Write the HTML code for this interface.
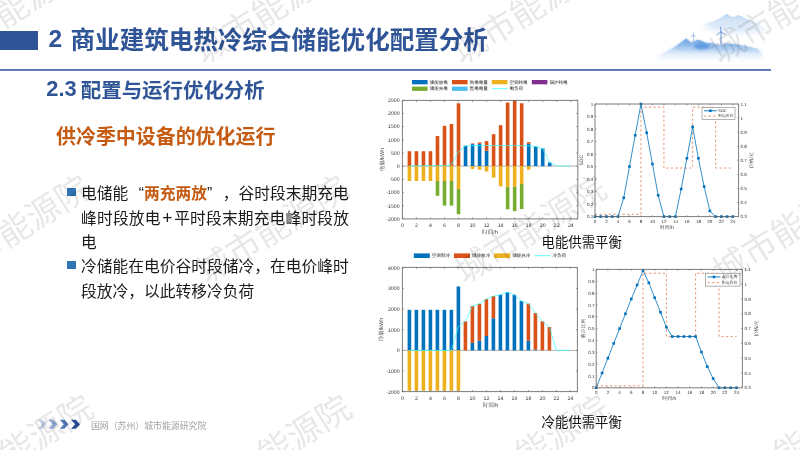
<!DOCTYPE html>
<html lang="zh-CN">
<head>
<meta charset="utf-8">
<title>2 商业建筑电热冷综合储能优化配置分析</title>
<style>
html,body{margin:0;padding:0;background:#fff;}
body{width:800px;height:450px;position:relative;overflow:hidden;font-family:"Liberation Sans", "Noto Sans CJK SC", sans-serif;}
.abs{position:absolute;white-space:nowrap;}
svg{position:absolute;left:0;top:0;}
.bar{left:0;top:30.5px;width:38px;height:19px;background:#2f5597;}
.title{left:48.5px;top:22.5px;font-size:24.55px;line-height:35px;font-weight:700;color:#2f5597;word-spacing:1.6px;}
.hline{left:0;top:68.5px;width:771px;height:2px;background:linear-gradient(#5472b4,#5f7cbb 70%,#8ea3d0);}
.sub{left:46.3px;top:75.5px;font-size:20.45px;line-height:30px;font-weight:700;color:#2f5597;word-spacing:-1.5px;}
.n1{position:relative;top:-1.4px;}
.n2{position:relative;top:-1.1px;font-size:21.8px;letter-spacing:0;line-height:1;}
.h3{left:56px;top:121.5px;font-size:19.95px;line-height:30px;font-weight:700;color:#c55a11;}
.ln{left:81.1px;font-size:15.76px;line-height:24px;color:#1a1a1a;width:267px;}
.j{text-align:justify;text-align-last:justify;}
.q{display:inline-block;width:15.7px;}
.plus{display:inline-block;width:13.6px;text-align:center;font-size:17.5px;line-height:1;}
.hl{color:#c55a11;font-weight:700;}
.sq{left:67px;width:8.7px;height:8.7px;background:#2e75b6;}
.cap{font-size:13.4px;line-height:18px;color:#111;left:541.5px;}
.foot{left:91px;top:418.6px;font-size:8.9px;line-height:14px;color:#a3a3a3;}
</style>
</head>
<body>
<svg class="mt" width="800" height="450" viewBox="0 0 800 450">
<defs>
<filter id="b0" x="-20%" y="-40%" width="140%" height="180%"><feGaussianBlur stdDeviation="0.55"/></filter>
<filter id="b1" x="-20%" y="-40%" width="140%" height="180%"><feGaussianBlur stdDeviation="1.3"/></filter>
<filter id="b2" x="-20%" y="-40%" width="140%" height="180%"><feGaussianBlur stdDeviation="2.4"/></filter>
<linearGradient id="mg" gradientUnits="userSpaceOnUse" x1="0" y1="38" x2="0" y2="62"><stop offset="0" stop-color="#8fbaea" stop-opacity="0.9"/><stop offset="0.5" stop-color="#b5d2f2" stop-opacity="0.75"/><stop offset="1" stop-color="#e3eefa" stop-opacity="0"/></linearGradient>
<linearGradient id="rg" gradientUnits="userSpaceOnUse" x1="0" y1="38" x2="0" y2="54"><stop offset="0" stop-color="#5e9ce0" stop-opacity="0.85"/><stop offset="0.45" stop-color="#78acE6" stop-opacity="0.6"/><stop offset="1" stop-color="#a9cbf0" stop-opacity="0"/></linearGradient>
<linearGradient id="cg" gradientUnits="userSpaceOnUse" x1="0" y1="14" x2="0" y2="32"><stop offset="0" stop-color="#8dbaec" stop-opacity="0.9"/><stop offset="0.5" stop-color="#b9d5f3" stop-opacity="0.6"/><stop offset="1" stop-color="#e3eefa" stop-opacity="0"/></linearGradient>
</defs>
<path d="M654 60 L659 56 L668 50 L676 46 L683 41 L686 38.5 L689 41 L692 42.5 L697 40 L701 40.5 L706 43 L712 43 L716 44.5 L721 45 L726 43.5 L734 44 L742 45.5 L750 47 L758 49 L762 53 L763 61 L740 63 L700 61 L670 63 Z" fill="url(#mg)" filter="url(#b1)"/>
<path d="M672 49 L676 46 L683 41 L686 38.5 L689 41 L692 42.5 L697 40 L701 40.5 L706 43 L712 43 L716 44.5 L721 45 L726 43.5 L734 44 L742 45.5 L750 47 L758 49 L760 53 L740 54 L715 55 L690 53 Z" fill="url(#rg)" filter="url(#b0)"/>
<ellipse cx="702" cy="46.3" rx="8" ry="3.2" fill="#4a8fda" opacity="0.7" filter="url(#b1)"/>
<path d="M704 25 L708 23 L714 21 L720 18 L724 15.5 L727 14 L730 16 L734 17 L738 15 L742 16.5 L747 19 L752 21 L758 24 L765 28 L771 32 L745 31 L720 29 Z" fill="url(#cg)" filter="url(#b0)" opacity="0.75"/>
<path d="M700 27 L720 22 L745 23 L768 31 L740 33 L715 31 Z" fill="#c9def5" opacity="0.6" filter="url(#b2)"/>
<path d="M693.4 42.5V34.5M693.4 35.2l-2.6 1.2M693.4 35.2l2.4 1.3M693.4 35.2v-2.6" stroke="#86abda" stroke-width="0.7" fill="none"/>
<path d="M721 45V31.5M721 32l-4.6 3.2M721 32l4.4 2.6M721 32l-0.4-5.2" stroke="#628fcd" stroke-width="0.9" fill="none"/>
</svg>
<div class="abs bar"></div>
<div class="abs title"><span class="n1">2</span> 商业建筑电热冷综合储能优化配置分析</div>
<div class="abs hline"></div>
<div class="abs sub"><span class="n2">2.3</span> 配置与运行优化分析</div>
<div class="abs h3">供冷季中设备的优化运行</div>

<div class="abs sq" style="top:187.6px"></div>
<div class="abs ln" style="top:182.3px">电储能<span class="q" style="text-align:right">“</span><span class="hl">两充两放</span><span class="q" style="text-align:left">”</span>，谷时段末期充电</div>
<div class="abs ln" style="top:206.8px;letter-spacing:0.15px">峰时段放电<span class="plus">+</span>平时段末期充电峰时段放</div>
<div class="abs ln" style="top:231.2px">电</div>
<div class="abs sq" style="top:260.5px"></div>
<div class="abs ln" style="top:255.2px">冷储能在电价谷时段储冷，在电价峰时</div>
<div class="abs ln" style="top:279.5px">段放冷，以此转移冷负荷</div>

<svg class="charts" width="800" height="450" viewBox="0 0 800 450" font-family='"Liberation Sans", "Noto Serif CJK SC", serif' text-rendering="geometricPrecision">
<path d="M402.4 166.1H577.8" stroke="#666" stroke-width="0.5"/>
<g shape-rendering="auto">
<rect x="407.62" y="151.22" width="3.6" height="14.88" fill="#d95319"/>
<rect x="407.62" y="166.1" width="3.6" height="14.88" fill="#edb120"/>
<rect x="414.63" y="151.22" width="3.6" height="14.88" fill="#d95319"/>
<rect x="414.63" y="166.1" width="3.6" height="14.88" fill="#edb120"/>
<rect x="421.65" y="151.22" width="3.6" height="14.88" fill="#d95319"/>
<rect x="421.65" y="166.1" width="3.6" height="14.88" fill="#edb120"/>
<rect x="428.66" y="151.22" width="3.6" height="14.88" fill="#d95319"/>
<rect x="428.66" y="166.1" width="3.6" height="14.88" fill="#edb120"/>
<rect x="435.68" y="136.07" width="3.6" height="30.03" fill="#d95319"/>
<rect x="435.68" y="166.1" width="3.6" height="14.88" fill="#edb120"/>
<rect x="435.68" y="180.98" width="3.6" height="14.83" fill="#77ac30"/>
<rect x="442.7" y="125.8" width="3.6" height="40.3" fill="#d95319"/>
<rect x="442.7" y="166.1" width="3.6" height="14.88" fill="#edb120"/>
<rect x="442.7" y="180.98" width="3.6" height="24.63" fill="#77ac30"/>
<rect x="449.71" y="123.96" width="3.6" height="42.14" fill="#d95319"/>
<rect x="449.71" y="166.1" width="3.6" height="14.88" fill="#edb120"/>
<rect x="449.71" y="180.98" width="3.6" height="24.63" fill="#77ac30"/>
<rect x="456.73" y="103.28" width="3.6" height="62.82" fill="#d95319"/>
<rect x="456.73" y="166.1" width="3.6" height="22.97" fill="#edb120"/>
<rect x="456.73" y="189.07" width="3.6" height="25.18" fill="#77ac30"/>
<rect x="463.74" y="145.82" width="3.6" height="20.28" fill="#0072bd"/>
<rect x="463.74" y="145.69" width="3.6" height="0.13" fill="#d95319"/>
<rect x="470.76" y="144.11" width="3.6" height="21.99" fill="#0072bd"/>
<rect x="470.76" y="143.45" width="3.6" height="0.66" fill="#d95319"/>
<rect x="470.76" y="166.1" width="3.6" height="2.9" fill="#edb120"/>
<rect x="477.78" y="143.84" width="3.6" height="22.26" fill="#0072bd"/>
<rect x="477.78" y="142.39" width="3.6" height="1.45" fill="#d95319"/>
<rect x="477.78" y="166.1" width="3.6" height="3.69" fill="#edb120"/>
<rect x="484.79" y="150.82" width="3.6" height="15.28" fill="#0072bd"/>
<rect x="484.79" y="141.08" width="3.6" height="9.75" fill="#d95319"/>
<rect x="484.79" y="166.1" width="3.6" height="5.4" fill="#edb120"/>
<rect x="491.81" y="134.18" width="3.6" height="31.92" fill="#d95319"/>
<rect x="491.81" y="166.1" width="3.6" height="11.59" fill="#edb120"/>
<rect x="498.82" y="125.19" width="3.6" height="40.91" fill="#d95319"/>
<rect x="498.82" y="166.1" width="3.6" height="20.28" fill="#edb120"/>
<rect x="505.84" y="102.54" width="3.6" height="63.56" fill="#d95319"/>
<rect x="505.84" y="166.1" width="3.6" height="21.07" fill="#edb120"/>
<rect x="505.84" y="187.17" width="3.6" height="22.13" fill="#77ac30"/>
<rect x="512.86" y="100.25" width="3.6" height="65.85" fill="#d95319"/>
<rect x="512.86" y="166.1" width="3.6" height="20.68" fill="#edb120"/>
<rect x="512.86" y="186.78" width="3.6" height="24.36" fill="#77ac30"/>
<rect x="519.87" y="103.25" width="3.6" height="62.85" fill="#d95319"/>
<rect x="519.87" y="166.1" width="3.6" height="17.91" fill="#edb120"/>
<rect x="519.87" y="184.01" width="3.6" height="25.02" fill="#77ac30"/>
<rect x="526.89" y="143.84" width="3.6" height="22.26" fill="#0072bd"/>
<rect x="526.89" y="142.16" width="3.6" height="1.69" fill="#d95319"/>
<rect x="526.89" y="166.1" width="3.6" height="3.58" fill="#edb120"/>
<rect x="533.9" y="146.48" width="3.6" height="19.62" fill="#0072bd"/>
<rect x="540.92" y="148.45" width="3.6" height="17.65" fill="#0072bd"/>
<rect x="547.94" y="162.52" width="3.6" height="3.58" fill="#0072bd"/>
</g>
<path d="M409.42 165.78 L416.43 165.78 L423.45 165.78 L430.46 165.78 L437.48 165.78 L444.5 165.7 L451.51 164.52 L458.53 151.35 L465.54 145.82 L472.56 145.69 L479.58 145.55 L486.59 145.55 L493.61 145.55 L500.62 145.55 L507.64 145.55 L514.66 145.55 L521.67 145.69 L528.69 145.77 L535.7 146.61 L542.72 148.72 L549.74 162.52 L556.75 165.89 L563.77 166.1 L570.78 166.1" fill="none" stroke="#3ff" stroke-width="0.7" stroke-linejoin="round"/>
<path d="M402.4 100.4H577.8V218.9H402.4Z" fill="none" stroke="#666" stroke-width="0.85"/>
<path d="M402.4 218.9v-1.6M402.4 100.4v1.6M416.43 218.9v-1.6M416.43 100.4v1.6M430.46 218.9v-1.6M430.46 100.4v1.6M444.5 218.9v-1.6M444.5 100.4v1.6M458.53 218.9v-1.6M458.53 100.4v1.6M472.56 218.9v-1.6M472.56 100.4v1.6M486.59 218.9v-1.6M486.59 100.4v1.6M500.62 218.9v-1.6M500.62 100.4v1.6M514.66 218.9v-1.6M514.66 100.4v1.6M528.69 218.9v-1.6M528.69 100.4v1.6M542.72 218.9v-1.6M542.72 100.4v1.6M556.75 218.9v-1.6M556.75 100.4v1.6M570.78 218.9v-1.6M570.78 100.4v1.6M402.4 218.78h1.6M577.8 218.78h-1.6M402.4 205.61h1.6M577.8 205.61h-1.6M402.4 192.44h1.6M577.8 192.44h-1.6M402.4 179.27h1.6M577.8 179.27h-1.6M402.4 166.1h1.6M577.8 166.1h-1.6M402.4 152.93h1.6M577.8 152.93h-1.6M402.4 139.76h1.6M577.8 139.76h-1.6M402.4 126.59h1.6M577.8 126.59h-1.6M402.4 113.42h1.6M577.8 113.42h-1.6M402.4 100.25h1.6M577.8 100.25h-1.6" fill="none" stroke="#666" stroke-width="0.6"/>
<text x="402.4" y="226.6" font-size="5.2" text-anchor="middle" fill="#333">0</text>
<text x="416.43" y="226.6" font-size="5.2" text-anchor="middle" fill="#333">2</text>
<text x="430.46" y="226.6" font-size="5.2" text-anchor="middle" fill="#333">4</text>
<text x="444.5" y="226.6" font-size="5.2" text-anchor="middle" fill="#333">6</text>
<text x="458.53" y="226.6" font-size="5.2" text-anchor="middle" fill="#333">8</text>
<text x="472.56" y="226.6" font-size="5.2" text-anchor="middle" fill="#333">10</text>
<text x="486.59" y="226.6" font-size="5.2" text-anchor="middle" fill="#333">12</text>
<text x="500.62" y="226.6" font-size="5.2" text-anchor="middle" fill="#333">14</text>
<text x="514.66" y="226.6" font-size="5.2" text-anchor="middle" fill="#333">16</text>
<text x="528.69" y="226.6" font-size="5.2" text-anchor="middle" fill="#333">18</text>
<text x="542.72" y="226.6" font-size="5.2" text-anchor="middle" fill="#333">20</text>
<text x="556.75" y="226.6" font-size="5.2" text-anchor="middle" fill="#333">22</text>
<text x="570.78" y="226.6" font-size="5.2" text-anchor="middle" fill="#333">24</text>
<text x="399.6" y="220.68" font-size="5.2" text-anchor="end" fill="#333">-2000</text>
<text x="399.6" y="207.51" font-size="5.2" text-anchor="end" fill="#333">-1500</text>
<text x="399.6" y="194.34" font-size="5.2" text-anchor="end" fill="#333">-1000</text>
<text x="399.6" y="181.17" font-size="5.2" text-anchor="end" fill="#333">-500</text>
<text x="399.6" y="168" font-size="5.2" text-anchor="end" fill="#333">0</text>
<text x="399.6" y="154.83" font-size="5.2" text-anchor="end" fill="#333">500</text>
<text x="399.6" y="141.66" font-size="5.2" text-anchor="end" fill="#333">1000</text>
<text x="399.6" y="128.49" font-size="5.2" text-anchor="end" fill="#333">1500</text>
<text x="399.6" y="115.32" font-size="5.2" text-anchor="end" fill="#333">2000</text>
<text x="399.6" y="102.15" font-size="5.2" text-anchor="end" fill="#333">2500</text>
<text x="490" y="234.2" font-size="5.6" text-anchor="middle" fill="#333">时间/h</text>
<text x="383.6" y="159.6" font-size="5.6" text-anchor="middle" fill="#333" transform="rotate(-90 383.6 159.6)">电量/kWh</text>
<rect x="412" y="80" width="15.6" height="4.3" fill="#0072bd"/>
<text x="429.6" y="83.8" font-size="4.55" text-anchor="start" fill="#2a2a2a" font-family='"Liberation Sans", "Noto Sans CJK SC", sans-serif' >储能放电</text>
<rect x="452" y="80" width="15.6" height="4.3" fill="#d95319"/>
<text x="469.6" y="83.8" font-size="4.55" text-anchor="start" fill="#2a2a2a" font-family='"Liberation Sans", "Noto Sans CJK SC", sans-serif' >购电电量</text>
<rect x="491.8" y="80" width="15.6" height="4.3" fill="#edb120"/>
<text x="509.4" y="83.8" font-size="4.55" text-anchor="start" fill="#2a2a2a" font-family='"Liberation Sans", "Noto Sans CJK SC", sans-serif' >空调耗电</text>
<rect x="531.8" y="80" width="15.6" height="4.3" fill="#7e2f8e"/>
<text x="549.4" y="83.8" font-size="4.55" text-anchor="start" fill="#2a2a2a" font-family='"Liberation Sans", "Noto Sans CJK SC", sans-serif' >锅炉耗电</text>
<rect x="412" y="86.6" width="15.6" height="4.3" fill="#77ac30"/>
<text x="429.6" y="90.4" font-size="4.55" text-anchor="start" fill="#2a2a2a" font-family='"Liberation Sans", "Noto Sans CJK SC", sans-serif' >储能充电</text>
<rect x="452" y="86.6" width="15.6" height="4.3" fill="#4dbeee"/>
<text x="469.6" y="90.4" font-size="4.55" text-anchor="start" fill="#2a2a2a" font-family='"Liberation Sans", "Noto Sans CJK SC", sans-serif' >售电电量</text>
<path d="M491.8 88.7h15.6" stroke="#3ff" stroke-width="0.8"/>
<text x="509.4" y="90.4" font-size="4.55" text-anchor="start" fill="#2a2a2a" font-family='"Liberation Sans", "Noto Sans CJK SC", sans-serif' >电负荷</text>
<path d="M595 214.35 L640.95 214.35 L640.95 107.24 L663.93 107.24 L663.93 168.04 L692.65 168.04 L692.65 107.24 L715.62 107.24 L715.62 168.04 L732.86 168.04" fill="none" stroke="#e2774a" stroke-width="0.8" stroke-dasharray="2.2 2.4"/>
<path d="M595 216.6 L600.74 216.6 L606.49 216.6 L612.23 216.6 L617.98 216.6 L623.72 197.83 L629.46 166.56 L635.21 135.28 L640.95 104 L646.7 132.78 L652.44 164.05 L658.18 195.33 L663.93 216.6 L669.67 216.6 L675.42 216.6 L681.16 189.08 L686.9 158.3 L692.65 126.77 L698.39 158.3 L704.14 186.57 L709.88 210.97 L715.62 216.6 L721.37 216.6 L727.11 216.6 L732.86 216.6" fill="none" stroke="#0072bd" stroke-width="0.8" stroke-linejoin="round"/>
<rect x="593.7" y="215.3" width="2.6" height="2.6" fill="#0072bd"/>
<rect x="599.44" y="215.3" width="2.6" height="2.6" fill="#0072bd"/>
<rect x="605.19" y="215.3" width="2.6" height="2.6" fill="#0072bd"/>
<rect x="610.93" y="215.3" width="2.6" height="2.6" fill="#0072bd"/>
<rect x="616.68" y="215.3" width="2.6" height="2.6" fill="#0072bd"/>
<rect x="622.42" y="196.53" width="2.6" height="2.6" fill="#0072bd"/>
<rect x="628.16" y="165.26" width="2.6" height="2.6" fill="#0072bd"/>
<rect x="633.91" y="133.98" width="2.6" height="2.6" fill="#0072bd"/>
<rect x="639.65" y="102.7" width="2.6" height="2.6" fill="#0072bd"/>
<rect x="645.4" y="131.48" width="2.6" height="2.6" fill="#0072bd"/>
<rect x="651.14" y="162.75" width="2.6" height="2.6" fill="#0072bd"/>
<rect x="656.88" y="194.03" width="2.6" height="2.6" fill="#0072bd"/>
<rect x="662.63" y="215.3" width="2.6" height="2.6" fill="#0072bd"/>
<rect x="668.37" y="215.3" width="2.6" height="2.6" fill="#0072bd"/>
<rect x="674.12" y="215.3" width="2.6" height="2.6" fill="#0072bd"/>
<rect x="679.86" y="187.78" width="2.6" height="2.6" fill="#0072bd"/>
<rect x="685.6" y="157" width="2.6" height="2.6" fill="#0072bd"/>
<rect x="691.35" y="125.47" width="2.6" height="2.6" fill="#0072bd"/>
<rect x="697.09" y="157" width="2.6" height="2.6" fill="#0072bd"/>
<rect x="702.84" y="185.27" width="2.6" height="2.6" fill="#0072bd"/>
<rect x="708.58" y="209.67" width="2.6" height="2.6" fill="#0072bd"/>
<rect x="714.32" y="215.3" width="2.6" height="2.6" fill="#0072bd"/>
<rect x="720.07" y="215.3" width="2.6" height="2.6" fill="#0072bd"/>
<rect x="725.81" y="215.3" width="2.6" height="2.6" fill="#0072bd"/>
<rect x="731.56" y="215.3" width="2.6" height="2.6" fill="#0072bd"/>
<path d="M595 104H738.6V216.6H595Z" fill="none" stroke="#666" stroke-width="0.85"/>
<path d="M595 216.6v-1.4M595 104v1.4M606.49 216.6v-1.4M606.49 104v1.4M617.98 216.6v-1.4M617.98 104v1.4M629.46 216.6v-1.4M629.46 104v1.4M640.95 216.6v-1.4M640.95 104v1.4M652.44 216.6v-1.4M652.44 104v1.4M663.93 216.6v-1.4M663.93 104v1.4M675.42 216.6v-1.4M675.42 104v1.4M686.9 216.6v-1.4M686.9 104v1.4M698.39 216.6v-1.4M698.39 104v1.4M709.88 216.6v-1.4M709.88 104v1.4M721.37 216.6v-1.4M721.37 104v1.4M732.86 216.6v-1.4M732.86 104v1.4M595 216.6h1.4M595 204.09h1.4M595 191.58h1.4M595 179.07h1.4M595 166.56h1.4M595 154.04h1.4M595 141.53h1.4M595 129.02h1.4M595 116.51h1.4M595 104h1.4M738.6 216.6h-1.4M738.6 202.52h-1.4M738.6 188.45h-1.4M738.6 174.38h-1.4M738.6 160.3h-1.4M738.6 146.22h-1.4M738.6 132.15h-1.4M738.6 118.08h-1.4M738.6 104h-1.4" fill="none" stroke="#666" stroke-width="0.6"/>
<text x="595" y="223.4" font-size="4.5" text-anchor="middle" fill="#333">0</text>
<text x="606.49" y="223.4" font-size="4.5" text-anchor="middle" fill="#333">2</text>
<text x="617.98" y="223.4" font-size="4.5" text-anchor="middle" fill="#333">4</text>
<text x="629.46" y="223.4" font-size="4.5" text-anchor="middle" fill="#333">6</text>
<text x="640.95" y="223.4" font-size="4.5" text-anchor="middle" fill="#333">8</text>
<text x="652.44" y="223.4" font-size="4.5" text-anchor="middle" fill="#333">10</text>
<text x="663.93" y="223.4" font-size="4.5" text-anchor="middle" fill="#333">12</text>
<text x="675.42" y="223.4" font-size="4.5" text-anchor="middle" fill="#333">14</text>
<text x="686.9" y="223.4" font-size="4.5" text-anchor="middle" fill="#333">16</text>
<text x="698.39" y="223.4" font-size="4.5" text-anchor="middle" fill="#333">18</text>
<text x="709.88" y="223.4" font-size="4.5" text-anchor="middle" fill="#333">20</text>
<text x="721.37" y="223.4" font-size="4.5" text-anchor="middle" fill="#333">22</text>
<text x="732.86" y="223.4" font-size="4.5" text-anchor="middle" fill="#333">24</text>
<text x="593.2" y="218.2" font-size="4.5" text-anchor="end" fill="#333">0.1</text>
<text x="593.2" y="205.69" font-size="4.5" text-anchor="end" fill="#333">0.2</text>
<text x="593.2" y="193.18" font-size="4.5" text-anchor="end" fill="#333">0.3</text>
<text x="593.2" y="180.67" font-size="4.5" text-anchor="end" fill="#333">0.4</text>
<text x="593.2" y="168.16" font-size="4.5" text-anchor="end" fill="#333">0.5</text>
<text x="593.2" y="155.64" font-size="4.5" text-anchor="end" fill="#333">0.6</text>
<text x="593.2" y="143.13" font-size="4.5" text-anchor="end" fill="#333">0.7</text>
<text x="593.2" y="130.62" font-size="4.5" text-anchor="end" fill="#333">0.8</text>
<text x="593.2" y="118.11" font-size="4.5" text-anchor="end" fill="#333">0.9</text>
<text x="593.2" y="105.6" font-size="4.5" text-anchor="end" fill="#333">1</text>
<text x="740.6" y="218.2" font-size="4.5" text-anchor="start" fill="#333">0.3</text>
<text x="740.6" y="204.12" font-size="4.5" text-anchor="start" fill="#333">0.4</text>
<text x="740.6" y="190.05" font-size="4.5" text-anchor="start" fill="#333">0.5</text>
<text x="740.6" y="175.97" font-size="4.5" text-anchor="start" fill="#333">0.6</text>
<text x="740.6" y="161.9" font-size="4.5" text-anchor="start" fill="#333">0.7</text>
<text x="740.6" y="147.82" font-size="4.5" text-anchor="start" fill="#333">0.8</text>
<text x="740.6" y="133.75" font-size="4.5" text-anchor="start" fill="#333">0.9</text>
<text x="740.6" y="119.68" font-size="4.5" text-anchor="start" fill="#333">1</text>
<text x="740.6" y="105.6" font-size="4.5" text-anchor="start" fill="#333">1.1</text>
<text x="666.8" y="228.6" font-size="4.9" text-anchor="middle" fill="#333">时间/h</text>
<text x="583.2" y="160.3" font-size="4.9" text-anchor="middle" fill="#333" transform="rotate(-90 583.2 160.3)">SOC</text>
<text x="753" y="160.3" font-size="4.9" text-anchor="middle" fill="#333" transform="rotate(-90 753 160.3)">价格/元</text>
<rect x="702" y="107.3" width="33" height="12" fill="#fff" stroke="#666" stroke-width="0.5"/>
<path d="M704 110.78h12.8" stroke="#0072bd" stroke-width="0.9"/>
<rect x="709.1" y="109.48" width="2.6" height="2.6" fill="#0072bd"/>
<path d="M704 116.06h12.8" stroke="#e2774a" stroke-width="0.8" stroke-dasharray="2.2 2.4"/>
<text x="718.2" y="112.18" font-size="3.9" text-anchor="start" fill="#222">SOC</text>
<text x="718.2" y="117.46" font-size="3.9" text-anchor="start" fill="#222">购电价格</text>
<path d="M402.4 350.4H577.4" stroke="#666" stroke-width="0.5"/>
<rect x="407.6" y="309.82" width="3.6" height="40.58" fill="#0072bd"/>
<rect x="407.6" y="350.4" width="3.6" height="40.37" fill="#edb120"/>
<rect x="414.6" y="309.82" width="3.6" height="40.58" fill="#0072bd"/>
<rect x="414.6" y="350.4" width="3.6" height="40.37" fill="#edb120"/>
<rect x="421.6" y="309.82" width="3.6" height="40.58" fill="#0072bd"/>
<rect x="421.6" y="350.4" width="3.6" height="40.37" fill="#edb120"/>
<rect x="428.6" y="309.82" width="3.6" height="40.58" fill="#0072bd"/>
<rect x="428.6" y="350.4" width="3.6" height="40.37" fill="#edb120"/>
<rect x="435.6" y="309.82" width="3.6" height="40.58" fill="#0072bd"/>
<rect x="435.6" y="350.4" width="3.6" height="40.37" fill="#edb120"/>
<rect x="442.6" y="309.82" width="3.6" height="40.58" fill="#0072bd"/>
<rect x="442.6" y="350.4" width="3.6" height="40.37" fill="#edb120"/>
<rect x="449.6" y="309.82" width="3.6" height="40.58" fill="#0072bd"/>
<rect x="449.6" y="350.4" width="3.6" height="40.37" fill="#edb120"/>
<rect x="456.6" y="286.49" width="3.6" height="63.91" fill="#0072bd"/>
<rect x="456.6" y="350.4" width="3.6" height="40.37" fill="#edb120"/>
<rect x="463.6" y="321.32" width="3.6" height="29.08" fill="#d95319"/>
<rect x="470.6" y="342.88" width="3.6" height="7.52" fill="#0072bd"/>
<rect x="470.6" y="306" width="3.6" height="36.88" fill="#d95319"/>
<rect x="477.6" y="340.67" width="3.6" height="9.73" fill="#0072bd"/>
<rect x="477.6" y="303.79" width="3.6" height="36.88" fill="#d95319"/>
<rect x="484.6" y="335.97" width="3.6" height="14.43" fill="#0072bd"/>
<rect x="484.6" y="299.08" width="3.6" height="36.88" fill="#d95319"/>
<rect x="491.6" y="318.23" width="3.6" height="32.17" fill="#0072bd"/>
<rect x="491.6" y="296.07" width="3.6" height="22.16" fill="#d95319"/>
<rect x="498.6" y="294.77" width="3.6" height="55.63" fill="#0072bd"/>
<rect x="505.6" y="292.17" width="3.6" height="58.23" fill="#0072bd"/>
<rect x="512.6" y="294.77" width="3.6" height="55.63" fill="#0072bd"/>
<rect x="519.6" y="300.98" width="3.6" height="49.42" fill="#0072bd"/>
<rect x="526.6" y="340.67" width="3.6" height="9.73" fill="#0072bd"/>
<rect x="526.6" y="303.59" width="3.6" height="37.09" fill="#d95319"/>
<rect x="533.6" y="349.57" width="3.6" height="0.83" fill="#0072bd"/>
<rect x="533.6" y="313.11" width="3.6" height="36.47" fill="#d95319"/>
<rect x="540.6" y="321.32" width="3.6" height="29.08" fill="#d95319"/>
<rect x="547.6" y="326.94" width="3.6" height="23.46" fill="#d95319"/>
<path d="M409.4 350.4 L416.4 350.4 L423.4 350.4 L430.4 350.4 L437.4 350.4 L444.4 350.4 L451.4 350.4 L458.4 326.65 L465.4 321.32 L472.4 306 L479.4 303.79 L486.4 299.08 L493.4 296.07 L500.4 294.77 L507.4 292.17 L514.4 294.77 L521.4 300.98 L528.4 303.59 L535.4 313.11 L542.4 321.32 L549.4 326.94 L556.4 350.4 L563.4 350.4 L570.4 350.4" fill="none" stroke="#3ff" stroke-width="0.7" stroke-linejoin="round"/>
<path d="M402.4 267.4H577.4V391.6H402.4Z" fill="none" stroke="#666" stroke-width="0.85"/>
<path d="M402.4 391.6v-1.6M402.4 267.4v1.6M416.4 391.6v-1.6M416.4 267.4v1.6M430.4 391.6v-1.6M430.4 267.4v1.6M444.4 391.6v-1.6M444.4 267.4v1.6M458.4 391.6v-1.6M458.4 267.4v1.6M472.4 391.6v-1.6M472.4 267.4v1.6M486.4 391.6v-1.6M486.4 267.4v1.6M500.4 391.6v-1.6M500.4 267.4v1.6M514.4 391.6v-1.6M514.4 267.4v1.6M528.4 391.6v-1.6M528.4 267.4v1.6M542.4 391.6v-1.6M542.4 267.4v1.6M556.4 391.6v-1.6M556.4 267.4v1.6M570.4 391.6v-1.6M570.4 267.4v1.6M402.4 391.7h1.6M577.4 391.7h-1.6M402.4 371.05h1.6M577.4 371.05h-1.6M402.4 350.4h1.6M577.4 350.4h-1.6M402.4 329.75h1.6M577.4 329.75h-1.6M402.4 309.1h1.6M577.4 309.1h-1.6M402.4 288.45h1.6M577.4 288.45h-1.6M402.4 267.8h1.6M577.4 267.8h-1.6" fill="none" stroke="#666" stroke-width="0.6"/>
<text x="402.4" y="399.7" font-size="5.2" text-anchor="middle" fill="#333">0</text>
<text x="416.4" y="399.7" font-size="5.2" text-anchor="middle" fill="#333">2</text>
<text x="430.4" y="399.7" font-size="5.2" text-anchor="middle" fill="#333">4</text>
<text x="444.4" y="399.7" font-size="5.2" text-anchor="middle" fill="#333">6</text>
<text x="458.4" y="399.7" font-size="5.2" text-anchor="middle" fill="#333">8</text>
<text x="472.4" y="399.7" font-size="5.2" text-anchor="middle" fill="#333">10</text>
<text x="486.4" y="399.7" font-size="5.2" text-anchor="middle" fill="#333">12</text>
<text x="500.4" y="399.7" font-size="5.2" text-anchor="middle" fill="#333">14</text>
<text x="514.4" y="399.7" font-size="5.2" text-anchor="middle" fill="#333">16</text>
<text x="528.4" y="399.7" font-size="5.2" text-anchor="middle" fill="#333">18</text>
<text x="542.4" y="399.7" font-size="5.2" text-anchor="middle" fill="#333">20</text>
<text x="556.4" y="399.7" font-size="5.2" text-anchor="middle" fill="#333">22</text>
<text x="570.4" y="399.7" font-size="5.2" text-anchor="middle" fill="#333">24</text>
<text x="399.6" y="393.6" font-size="5.2" text-anchor="end" fill="#333">-2000</text>
<text x="399.6" y="372.95" font-size="5.2" text-anchor="end" fill="#333">-1000</text>
<text x="399.6" y="352.3" font-size="5.2" text-anchor="end" fill="#333">0</text>
<text x="399.6" y="331.65" font-size="5.2" text-anchor="end" fill="#333">1000</text>
<text x="399.6" y="311" font-size="5.2" text-anchor="end" fill="#333">2000</text>
<text x="399.6" y="290.35" font-size="5.2" text-anchor="end" fill="#333">3000</text>
<text x="399.6" y="269.7" font-size="5.2" text-anchor="end" fill="#333">4000</text>
<text x="490.5" y="407.3" font-size="5.6" text-anchor="middle" fill="#333">时间/h</text>
<text x="383.2" y="329.5" font-size="5.6" text-anchor="middle" fill="#333" transform="rotate(-90 383.2 329.5)">冷量/kWh</text>
<rect x="413.8" y="253.4" width="16" height="4.6" fill="#0072bd"/>
<text x="431.8" y="257.3" font-size="4.55" text-anchor="start" fill="#2a2a2a" font-family='"Liberation Sans", "Noto Sans CJK SC", sans-serif' >空调制冷</text>
<rect x="454" y="253.4" width="16" height="4.6" fill="#d95319"/>
<text x="472" y="257.3" font-size="4.55" text-anchor="start" fill="#2a2a2a" font-family='"Liberation Sans", "Noto Sans CJK SC", sans-serif' >储能放冷</text>
<rect x="494.2" y="253.4" width="16" height="4.6" fill="#edb120"/>
<text x="512.2" y="257.3" font-size="4.55" text-anchor="start" fill="#2a2a2a" font-family='"Liberation Sans", "Noto Sans CJK SC", sans-serif' >储能充冷</text>
<path d="M534.4 255.7h16" stroke="#3ff" stroke-width="0.8"/>
<text x="552.4" y="257.3" font-size="4.55" text-anchor="start" fill="#2a2a2a" font-family='"Liberation Sans", "Noto Sans CJK SC", sans-serif' >冷负荷</text>
<path d="M596.2 385.8 L642.98 385.8 L642.98 273.25 L666.38 273.25 L666.38 336.59 L695.62 336.59 L695.62 273.25 L719.01 273.25 L719.01 336.59 L736.55 336.59" fill="none" stroke="#e2774a" stroke-width="0.8" stroke-dasharray="2.2 2.4"/>
<path d="M596.2 387.8 L602.05 373 L607.9 358.2 L613.74 343.4 L619.59 328.6 L625.44 313.8 L631.29 299 L637.14 285.03 L642.98 270.58 L648.83 282.78 L654.68 297.7 L660.53 312.26 L666.38 327.18 L672.22 336.53 L678.07 336.53 L683.92 336.53 L689.77 336.53 L695.62 336.53 L701.46 352.04 L707.31 366.61 L713.16 378.56 L719.01 387.8 L724.86 387.8 L730.7 387.8 L736.55 387.8" fill="none" stroke="#0072bd" stroke-width="0.8" stroke-linejoin="round"/>
<rect x="594.9" y="386.5" width="2.6" height="2.6" fill="#0072bd"/>
<rect x="600.75" y="371.7" width="2.6" height="2.6" fill="#0072bd"/>
<rect x="606.6" y="356.9" width="2.6" height="2.6" fill="#0072bd"/>
<rect x="612.44" y="342.1" width="2.6" height="2.6" fill="#0072bd"/>
<rect x="618.29" y="327.3" width="2.6" height="2.6" fill="#0072bd"/>
<rect x="624.14" y="312.5" width="2.6" height="2.6" fill="#0072bd"/>
<rect x="629.99" y="297.7" width="2.6" height="2.6" fill="#0072bd"/>
<rect x="635.84" y="283.73" width="2.6" height="2.6" fill="#0072bd"/>
<rect x="641.68" y="269.28" width="2.6" height="2.6" fill="#0072bd"/>
<rect x="647.53" y="281.48" width="2.6" height="2.6" fill="#0072bd"/>
<rect x="653.38" y="296.4" width="2.6" height="2.6" fill="#0072bd"/>
<rect x="659.23" y="310.96" width="2.6" height="2.6" fill="#0072bd"/>
<rect x="665.08" y="325.88" width="2.6" height="2.6" fill="#0072bd"/>
<rect x="670.92" y="335.23" width="2.6" height="2.6" fill="#0072bd"/>
<rect x="676.77" y="335.23" width="2.6" height="2.6" fill="#0072bd"/>
<rect x="682.62" y="335.23" width="2.6" height="2.6" fill="#0072bd"/>
<rect x="688.47" y="335.23" width="2.6" height="2.6" fill="#0072bd"/>
<rect x="694.32" y="335.23" width="2.6" height="2.6" fill="#0072bd"/>
<rect x="700.16" y="350.74" width="2.6" height="2.6" fill="#0072bd"/>
<rect x="706.01" y="365.31" width="2.6" height="2.6" fill="#0072bd"/>
<rect x="711.86" y="377.26" width="2.6" height="2.6" fill="#0072bd"/>
<rect x="717.71" y="386.5" width="2.6" height="2.6" fill="#0072bd"/>
<rect x="723.56" y="386.5" width="2.6" height="2.6" fill="#0072bd"/>
<rect x="729.4" y="386.5" width="2.6" height="2.6" fill="#0072bd"/>
<rect x="735.25" y="386.5" width="2.6" height="2.6" fill="#0072bd"/>
<path d="M596.2 269.4H742.4V387.8H596.2Z" fill="none" stroke="#666" stroke-width="0.85"/>
<path d="M596.2 387.8v-1.4M596.2 269.4v1.4M607.9 387.8v-1.4M607.9 269.4v1.4M619.59 387.8v-1.4M619.59 269.4v1.4M631.29 387.8v-1.4M631.29 269.4v1.4M642.98 387.8v-1.4M642.98 269.4v1.4M654.68 387.8v-1.4M654.68 269.4v1.4M666.38 387.8v-1.4M666.38 269.4v1.4M678.07 387.8v-1.4M678.07 269.4v1.4M689.77 387.8v-1.4M689.77 269.4v1.4M701.46 387.8v-1.4M701.46 269.4v1.4M713.16 387.8v-1.4M713.16 269.4v1.4M724.86 387.8v-1.4M724.86 269.4v1.4M736.55 387.8v-1.4M736.55 269.4v1.4M596.2 387.8h1.4M596.2 375.96h1.4M596.2 364.12h1.4M596.2 352.28h1.4M596.2 340.44h1.4M596.2 328.6h1.4M596.2 316.76h1.4M596.2 304.92h1.4M596.2 293.08h1.4M596.2 281.24h1.4M596.2 269.4h1.4M742.4 387.8h-1.4M742.4 373h-1.4M742.4 358.2h-1.4M742.4 343.4h-1.4M742.4 328.6h-1.4M742.4 313.8h-1.4M742.4 299h-1.4M742.4 284.2h-1.4M742.4 269.4h-1.4" fill="none" stroke="#666" stroke-width="0.6"/>
<text x="596.2" y="394.1" font-size="4.5" text-anchor="middle" fill="#333">0</text>
<text x="607.9" y="394.1" font-size="4.5" text-anchor="middle" fill="#333">2</text>
<text x="619.59" y="394.1" font-size="4.5" text-anchor="middle" fill="#333">4</text>
<text x="631.29" y="394.1" font-size="4.5" text-anchor="middle" fill="#333">6</text>
<text x="642.98" y="394.1" font-size="4.5" text-anchor="middle" fill="#333">8</text>
<text x="654.68" y="394.1" font-size="4.5" text-anchor="middle" fill="#333">10</text>
<text x="666.38" y="394.1" font-size="4.5" text-anchor="middle" fill="#333">12</text>
<text x="678.07" y="394.1" font-size="4.5" text-anchor="middle" fill="#333">14</text>
<text x="689.77" y="394.1" font-size="4.5" text-anchor="middle" fill="#333">16</text>
<text x="701.46" y="394.1" font-size="4.5" text-anchor="middle" fill="#333">18</text>
<text x="713.16" y="394.1" font-size="4.5" text-anchor="middle" fill="#333">20</text>
<text x="724.86" y="394.1" font-size="4.5" text-anchor="middle" fill="#333">22</text>
<text x="736.55" y="394.1" font-size="4.5" text-anchor="middle" fill="#333">24</text>
<text x="594.4" y="389.4" font-size="4.5" text-anchor="end" fill="#333">0</text>
<text x="594.4" y="377.56" font-size="4.5" text-anchor="end" fill="#333">0.1</text>
<text x="594.4" y="365.72" font-size="4.5" text-anchor="end" fill="#333">0.2</text>
<text x="594.4" y="353.88" font-size="4.5" text-anchor="end" fill="#333">0.3</text>
<text x="594.4" y="342.04" font-size="4.5" text-anchor="end" fill="#333">0.4</text>
<text x="594.4" y="330.2" font-size="4.5" text-anchor="end" fill="#333">0.5</text>
<text x="594.4" y="318.36" font-size="4.5" text-anchor="end" fill="#333">0.6</text>
<text x="594.4" y="306.52" font-size="4.5" text-anchor="end" fill="#333">0.7</text>
<text x="594.4" y="294.68" font-size="4.5" text-anchor="end" fill="#333">0.8</text>
<text x="594.4" y="282.84" font-size="4.5" text-anchor="end" fill="#333">0.9</text>
<text x="594.4" y="271" font-size="4.5" text-anchor="end" fill="#333">1</text>
<text x="744.4" y="389.4" font-size="4.5" text-anchor="start" fill="#333">0.3</text>
<text x="744.4" y="374.6" font-size="4.5" text-anchor="start" fill="#333">0.4</text>
<text x="744.4" y="359.8" font-size="4.5" text-anchor="start" fill="#333">0.5</text>
<text x="744.4" y="345" font-size="4.5" text-anchor="start" fill="#333">0.6</text>
<text x="744.4" y="330.2" font-size="4.5" text-anchor="start" fill="#333">0.7</text>
<text x="744.4" y="315.4" font-size="4.5" text-anchor="start" fill="#333">0.8</text>
<text x="744.4" y="300.6" font-size="4.5" text-anchor="start" fill="#333">0.9</text>
<text x="744.4" y="285.8" font-size="4.5" text-anchor="start" fill="#333">1</text>
<text x="744.4" y="271" font-size="4.5" text-anchor="start" fill="#333">1.1</text>
<text x="669.3" y="400.4" font-size="4.9" text-anchor="middle" fill="#333">时间/h</text>
<text x="585.2" y="328.6" font-size="4.9" text-anchor="middle" fill="#333" transform="rotate(-90 585.2 328.6)">蓄冷比例</text>
<text x="757.6" y="328.6" font-size="4.9" text-anchor="middle" fill="#333" transform="rotate(-90 757.6 328.6)">价格/元</text>
<rect x="705.6" y="273.2" width="34.4" height="12.9" fill="#fff" stroke="#666" stroke-width="0.5"/>
<path d="M707.6 276.94h12.8" stroke="#0072bd" stroke-width="0.9"/>
<rect x="712.7" y="275.64" width="2.6" height="2.6" fill="#0072bd"/>
<path d="M707.6 282.62h12.8" stroke="#e2774a" stroke-width="0.8" stroke-dasharray="2.2 2.4"/>
<text x="721.8" y="278.34" font-size="3.9" text-anchor="start" fill="#222">蓄冷比例</text>
<text x="721.8" y="284.02" font-size="3.9" text-anchor="start" fill="#222">购电价格</text>
</svg>
<div class="abs cap" style="top:233.8px">电能供需平衡</div>
<div class="abs cap" style="top:414.3px">冷能供需平衡</div>

<svg width="800" height="450" viewBox="0 0 800 450">
<g transform="translate(0,424.3)">
<path d="M38 -4.5h4.6l4 4.5l-4 4.5h-4.6l4 -4.5z" fill="#c3cfe6"/>
<path d="M48.7 -4.5h4.6l4 4.5l-4 4.5h-4.6l4 -4.5z" fill="#8ea5cf"/>
<path d="M59.8 -4.5h4.6l4 4.5l-4 4.5h-4.6l4 -4.5z" fill="#5477b6"/>
<path d="M71 -4.5h4.8l4.2 4.5l-4.2 4.5h-4.8l4.2 -4.5z" fill="#264a94"/>
</g>
</svg>
<div class="abs foot">国网（苏州）城市能源研究院</div>
<svg class="wm" width="800" height="450" viewBox="0 0 800 450" font-family='"Liberation Sans", "Noto Sans CJK SC", sans-serif' font-size="34" font-weight="400" fill="#000" fill-opacity="0.095" text-anchor="end" letter-spacing="0">
<g transform="translate(23,6)">
<text x="67" y="-30.80000000000001" transform="rotate(-32 67 -30.80000000000001)">城市能源院</text>
<text x="70" y="188.7" transform="rotate(-32 70 188.7)">城市能源院</text>
<text x="73" y="408.2" transform="rotate(-32 73 408.2)">城市能源院</text>
<text x="325" y="-30.80000000000001" transform="rotate(-32 325 -30.80000000000001)">城市能源院</text>
<text x="328" y="188.7" transform="rotate(-32 328 188.7)">城市能源院</text>
<text x="331" y="408.2" transform="rotate(-32 331 408.2)">城市能源院</text>
<text x="583" y="-30.80000000000001" transform="rotate(-32 583 -30.80000000000001)">城市能源院</text>
<text x="586" y="188.7" transform="rotate(-32 586 188.7)">城市能源院</text>
<text x="589" y="408.2" transform="rotate(-32 589 408.2)">城市能源院</text>
<text x="841" y="-30.80000000000001" transform="rotate(-32 841 -30.80000000000001)">城市能源院</text>
<text x="844" y="188.7" transform="rotate(-32 844 188.7)">城市能源院</text>
<text x="847" y="408.2" transform="rotate(-32 847 408.2)">城市能源院</text>
</g>
</svg>
</body>
</html>
